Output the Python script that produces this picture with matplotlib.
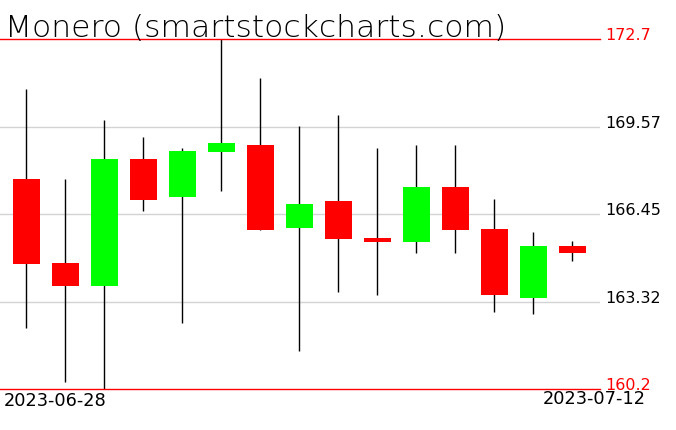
# monero candles, smartstockcharts style
import numpy as np
import matplotlib.pyplot as plt

dates = ["2023-06-28", "2023-06-29", "2023-06-30", "2023-07-01", "2023-07-02",
         "2023-07-03", "2023-07-04", "2023-07-05", "2023-07-06", "2023-07-07",
         "2023-07-08", "2023-07-09", "2023-07-10", "2023-07-11", "2023-07-12"]
opens = [167.70, 164.70, 163.89, 168.41, 167.07, 168.68, 168.91, 165.96,
         166.91, 165.59, 165.46, 167.41, 165.91, 163.46, 165.31]
highs = [170.91, 167.70, 169.81, 169.20, 168.81, 172.70, 171.31, 169.59,
         169.99, 168.81, 168.91, 168.91, 166.99, 165.81, 165.49]
lows = [162.39, 160.46, 160.20, 166.57, 162.57, 167.28, 165.88, 161.57,
        163.68, 163.57, 165.07, 165.07, 162.96, 162.89, 164.78]
closes = [164.67, 163.89, 168.41, 166.96, 168.70, 168.99, 165.89, 166.81,
          165.57, 165.46, 167.41, 165.89, 163.57, 165.31, 165.07]
y_min, y_max = 160.2, 172.7
grid_levels = [163.32, 166.45, 169.57]

W, H = 676, 431
fig = plt.figure(figsize=(W / 100, H / 100), dpi=100)
ax = fig.add_axes([0, (H - 390) / H, 600 / W, 350 / H])
ax.set_xlim(-26.3 / 39, (600 - 26.3) / 39)
ax.set_ylim(y_min, y_max)
ax.axis("off")

for g in grid_levels:
    ax.axhline(g, color="#d3d3d3", linewidth=1, zorder=0)
for g in (y_min, y_max):
    ax.axhline(g, color="red", linewidth=1, zorder=3, clip_on=False)

x = np.arange(len(dates))
for xi, o, h, l, c in zip(x, opens, highs, lows, closes):
    col = "#00ff00" if c >= o else "#ff0000"
    ax.vlines(xi, l, h, color="black", linewidth=1, zorder=1, clip_on=False)
    ax.bar(xi, abs(c - o), bottom=min(o, c), width=0.69, color=col,
           linewidth=0, zorder=2)

fs = 11.5
for g in grid_levels:
    ax.text(605 / 600, g, f"{g:.2f}", transform=ax.get_yaxis_transform(),
            fontsize=fs, va="baseline", ha="left", color="black")
ax.text(605 / 600, y_max, "172.7", transform=ax.get_yaxis_transform(),
        fontsize=fs, va="baseline", ha="left", color="red")
ax.text(605 / 600, y_min, "160.2", transform=ax.get_yaxis_transform(),
        fontsize=fs, va="baseline", ha="left", color="red")

fig.text(4 / W, 1 - 406 / H, dates[0], fontsize=12.8, va="baseline", ha="left")
fig.text(646 / W, 1 - 404 / H, dates[-1], fontsize=12.8, va="baseline", ha="right")

fig.text(5 / W, 1 - 37 / H, "Monero (smartstockcharts.com)", fontsize=22.6,
         va="baseline", ha="left", fontweight="light", color="black")

fig.savefig("out.png", dpi=100)
